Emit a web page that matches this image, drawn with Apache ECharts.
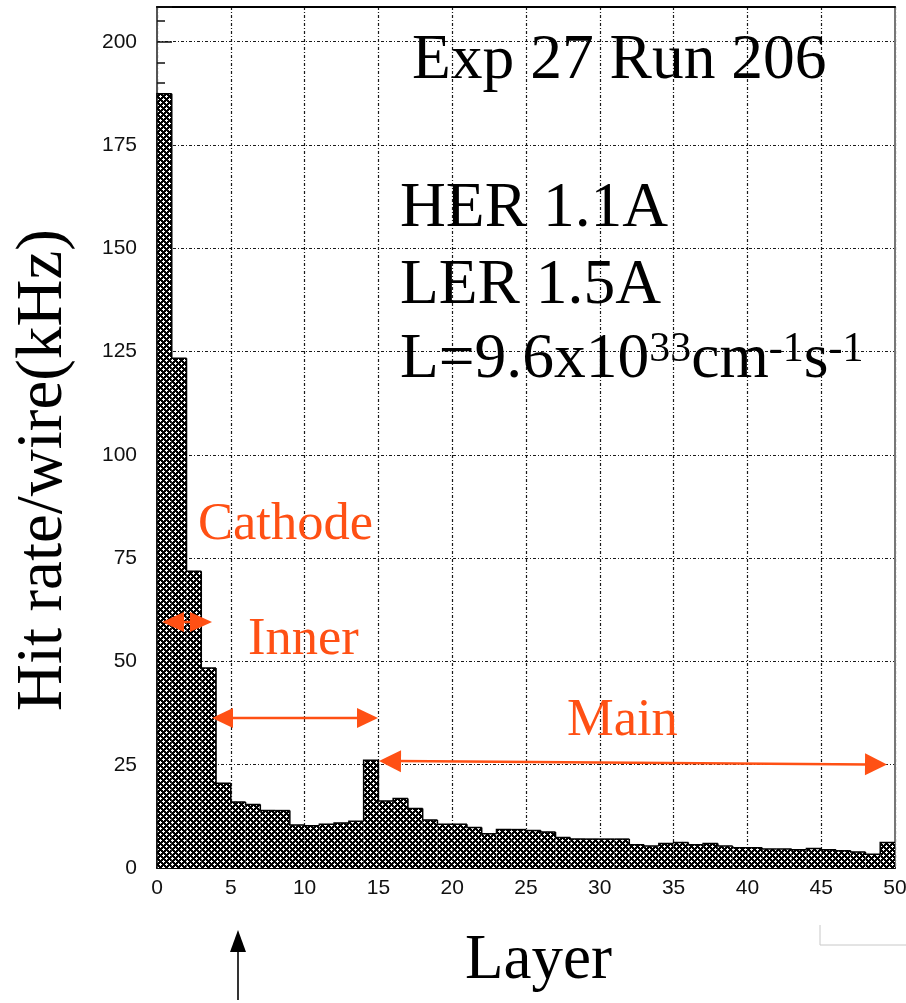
<!DOCTYPE html>
<html><head><meta charset="utf-8">
<script src="https://cdn.jsdelivr.net/npm/echarts@6/dist/echarts.min.js"></script>
<style>html,body{margin:0;padding:0;background:#fff}#c{width:906px;height:1003px}</style>
</head><body><div id="c"></div>
<script>
// ---------------- DATA ----------------
const layers = [0,1,2,3,4,5,6,7,8,9,10,11,12,13,14,15,16,17,18,19,20,21,22,23,24,25,26,27,28,29,30,31,32,33,34,35,36,37,38,39,40,41,42,43,44,45,46,47,48,49];
const hitRates = [187.4,123.4,71.8,48.4,20.5,16.0,15.4,13.9,13.9,10.4,
                  10.2,10.6,10.9,11.3,26.1,16.2,16.8,14.4,11.6,10.6,
                  10.6,9.8,8.3,9.3,9.3,9.1,8.7,7.4,7.0,7.0,
                  7.0,7.0,5.6,5.3,5.9,6.2,5.6,5.9,5.3,4.9,
                  4.9,4.6,4.6,4.4,4.7,4.4,4.2,3.9,3.3,6.2];
const xTickLabels = [0,5,10,15,20,25,30,35,40,45,50];
const yTickLabels = [0,25,50,75,100,125,150,175,200];
const yTitle = 'Hit rate/wire(kHz)';
const xTitle = 'Layer';
const runText = 'Exp 27 Run 206';
const herText = 'HER 1.1A';
const lerText = 'LER 1.5A';
const lumiParts = [['L=9.6x10', 0], ['33', 1], ['cm', 0], ['-1', 1], ['s', 0], ['-1', 1]];
const regionNames = ['Cathode', 'Inner', 'Main'];

// ---------------- STYLE / LAYOUT ----------------
const SERIF = '"Liberation Serif", "Times New Roman", serif';
const SANS = '"Liberation Sans", Arial, sans-serif';
const ORANGE = '#ff5014';
const GRIDLINE = {color: '#1a1a1a', type: [3, 2, 1, 2], width: 1.2};

function makeHatch() {
  const n = 6, w = 3;
  const c = document.createElement('canvas');
  c.width = n; c.height = n;
  const ctx = c.getContext('2d');
  const img = ctx.createImageData(n, n);
  for (let y = 0; y < n; y++) for (let x = 0; x < n; x++) {
    const a = (x + y) % n, b = ((x - y) % n + n) % n;
    const v = (a < w || b < w) ? 0 : 255;
    const k = (y * n + x) * 4;
    img.data[k] = v; img.data[k+1] = v; img.data[k+2] = v; img.data[k+3] = 255;
  }
  ctx.putImageData(img, 0, 0);
  return c;
}
const hatch = {image: makeHatch(), repeat: 'repeat'};

const mctx = document.createElement('canvas').getContext('2d');
function textW(str, size) { mctx.font = size + 'px ' + SERIF; return mctx.measureText(str).width; }

// text with alphabetic baseline at (x, base)
function txt(str, x, base, size, color, extra) {
  return Object.assign({
    type: 'text', x: x, y: base - 0.34 * size, z: 100,
    style: {text: str, font: size + 'px ' + SERIF, fill: color || '#000', align: 'left', verticalAlign: 'middle'}
  }, extra || {});
}

function arrow(x1, y1, x2, y2, headLen, headHalf, color, lw, both) {
  const dx = x2 - x1, dy = y2 - y1, L = Math.hypot(dx, dy);
  const ux = dx / L, uy = dy / L, px = -uy, py = ux;
  const els = [];
  const sx = both ? x1 + ux * headLen * 0.8 : x1, sy = both ? y1 + uy * headLen * 0.8 : y1;
  const ex = x2 - ux * headLen * 0.8, ey = y2 - uy * headLen * 0.8;
  els.push({type: 'line', z: 100, shape: {x1: sx, y1: sy, x2: ex, y2: ey}, style: {stroke: color, lineWidth: lw}});
  const head = (tx, ty, dirx, diry) => ({
    type: 'polygon', z: 100,
    shape: {points: [[tx, ty],
      [tx - dirx * headLen + px * headHalf, ty - diry * headLen + py * headHalf],
      [tx - dirx * headLen - px * headHalf, ty - diry * headLen - py * headHalf]]},
    style: {fill: color}
  });
  els.push(head(x2, y2, ux, uy));
  if (both) els.push(head(x1, y1, -ux, -uy));
  return els;
}

const graphics = [];
graphics.push(txt(runText, 412, 83, 63.5));
graphics.push(txt(herText, 400, 231, 63.5));
graphics.push(txt(lerText, 400, 308, 63.5));
// luminosity line with superscripts
(function () {
  let x = 400;
  lumiParts.forEach(([s, sup]) => {
    const size = sup ? 42 : 63.5;
    const base = sup ? 364 : 382;
    graphics.push(txt(s, x, base, size));
    x += textW(s, size);
  });
})();
graphics.push(txt(regionNames[0], 198, 543, 52.5, ORANGE));
graphics.push(txt(regionNames[1], 248, 658, 52.5, ORANGE));
graphics.push(txt(regionNames[2], 567, 739, 52.5, ORANGE));
graphics.push(txt(xTitle, 465, 983, 63));
graphics.push({
  type: 'text', x: 44, y: 470, rotation: Math.PI / 2, z: 100,
  style: {text: yTitle, font: '65px ' + SERIF, fill: '#000', align: 'center', verticalAlign: 'middle'}
});
// annotation arrows
arrow(162, 622, 212, 622, 22, 10, ORANGE, 2.5, true).forEach(e => graphics.push(e));
arrow(212, 718, 378, 718, 21, 10, ORANGE, 2.5, true).forEach(e => graphics.push(e));
arrow(379, 761, 887, 764.5, 22, 11, ORANGE, 2.5, true).forEach(e => graphics.push(e));
arrow(238, 1000, 238, 930, 22, 8, '#000', 1.6, false).forEach(e => graphics.push(e));
graphics.push({type: 'polyline', z: 100, shape: {points: [[820, 925], [820, 945], [906, 945]]}, style: {stroke: '#c8c8c8', lineWidth: 1, fill: null}});

const chart = echarts.init(document.getElementById('c'), null, {renderer: 'canvas', width: 906, height: 1003});
const YMAX = 208.4;
chart.setOption({
  animation: false,
  backgroundColor: '#fff',
  grid: {left: 157, right: 11, top: 7, bottom: 135, containLabel: false, outerBoundsMode: 'none'},
  xAxis: [
    {type: 'value', min: 0, max: 50, interval: 5, position: 'bottom',
     axisLine: {show: true, onZero: false, lineStyle: {color: '#000', width: 2}},
     axisTick: {show: false},
     axisLabel: {show: true, margin: 10, fontFamily: SANS, fontSize: 21, color: '#111',
                 formatter: v => xTickLabels.includes(v) ? String(v) : ''},
     splitLine: {show: true, lineStyle: GRIDLINE}},
    {type: 'value', min: 0, max: 50, position: 'top',
     axisLine: {show: true, onZero: false, lineStyle: {color: '#000', width: 2}},
     axisTick: {show: false}, axisLabel: {show: false}, splitLine: {show: false}}
  ],
  yAxis: [
    {type: 'value', min: 0, max: YMAX, interval: 25, position: 'left',
     axisLine: {show: true, onZero: false, lineStyle: {color: '#555', width: 2}},
     axisTick: {show: true, inside: true, length: 15, lineStyle: {color: '#111', width: 1.5}},
     axisLabel: {show: true, margin: 20, fontFamily: SANS, fontSize: 21, color: '#111',
                 formatter: v => yTickLabels.includes(v) ? String(v) : ''},
     splitLine: {show: true, lineStyle: GRIDLINE}},
    {type: 'value', min: 0, max: YMAX, interval: 5, position: 'left',
     axisLine: {show: false}, axisTick: {show: true, inside: true, length: 8, lineStyle: {color: '#111', width: 1.5}},
     axisLabel: {show: false}, splitLine: {show: false}},
    {type: 'value', min: 0, max: YMAX, position: 'right',
     axisLine: {show: true, onZero: false, lineStyle: {color: '#777', width: 2}},
     axisTick: {show: false}, axisLabel: {show: false}, splitLine: {show: false}}
  ],
  series: [{
    type: 'custom',
    xAxisIndex: 0, yAxisIndex: 0,
    data: layers.map((l, i) => [l, hitRates[i]]),
    z: 10,
    renderItem: function (params, api) {
      const i = api.value(0), v = api.value(1);
      const idx = params.dataIndex;
      const prev = idx > 0 ? hitRates[idx - 1] : 0;
      const p0 = api.coord([i, v]);
      const p1 = api.coord([i + 1, 0]);
      const pp = api.coord([i, prev]);
      return {type: 'group', children: [
        {type: 'rect', shape: {x: p0[0], y: p0[1], width: p1[0] - p0[0], height: p1[1] - p0[1]},
         style: {fill: hatch}},
        {type: 'polyline', shape: {points: [[p0[0], pp[1]], [p0[0], p0[1]], [p1[0], p0[1]]]},
         style: {stroke: '#000', lineWidth: 1.5, fill: null}}
      ]};
    }
  }],
  graphic: graphics
});
</script>
</body></html>
